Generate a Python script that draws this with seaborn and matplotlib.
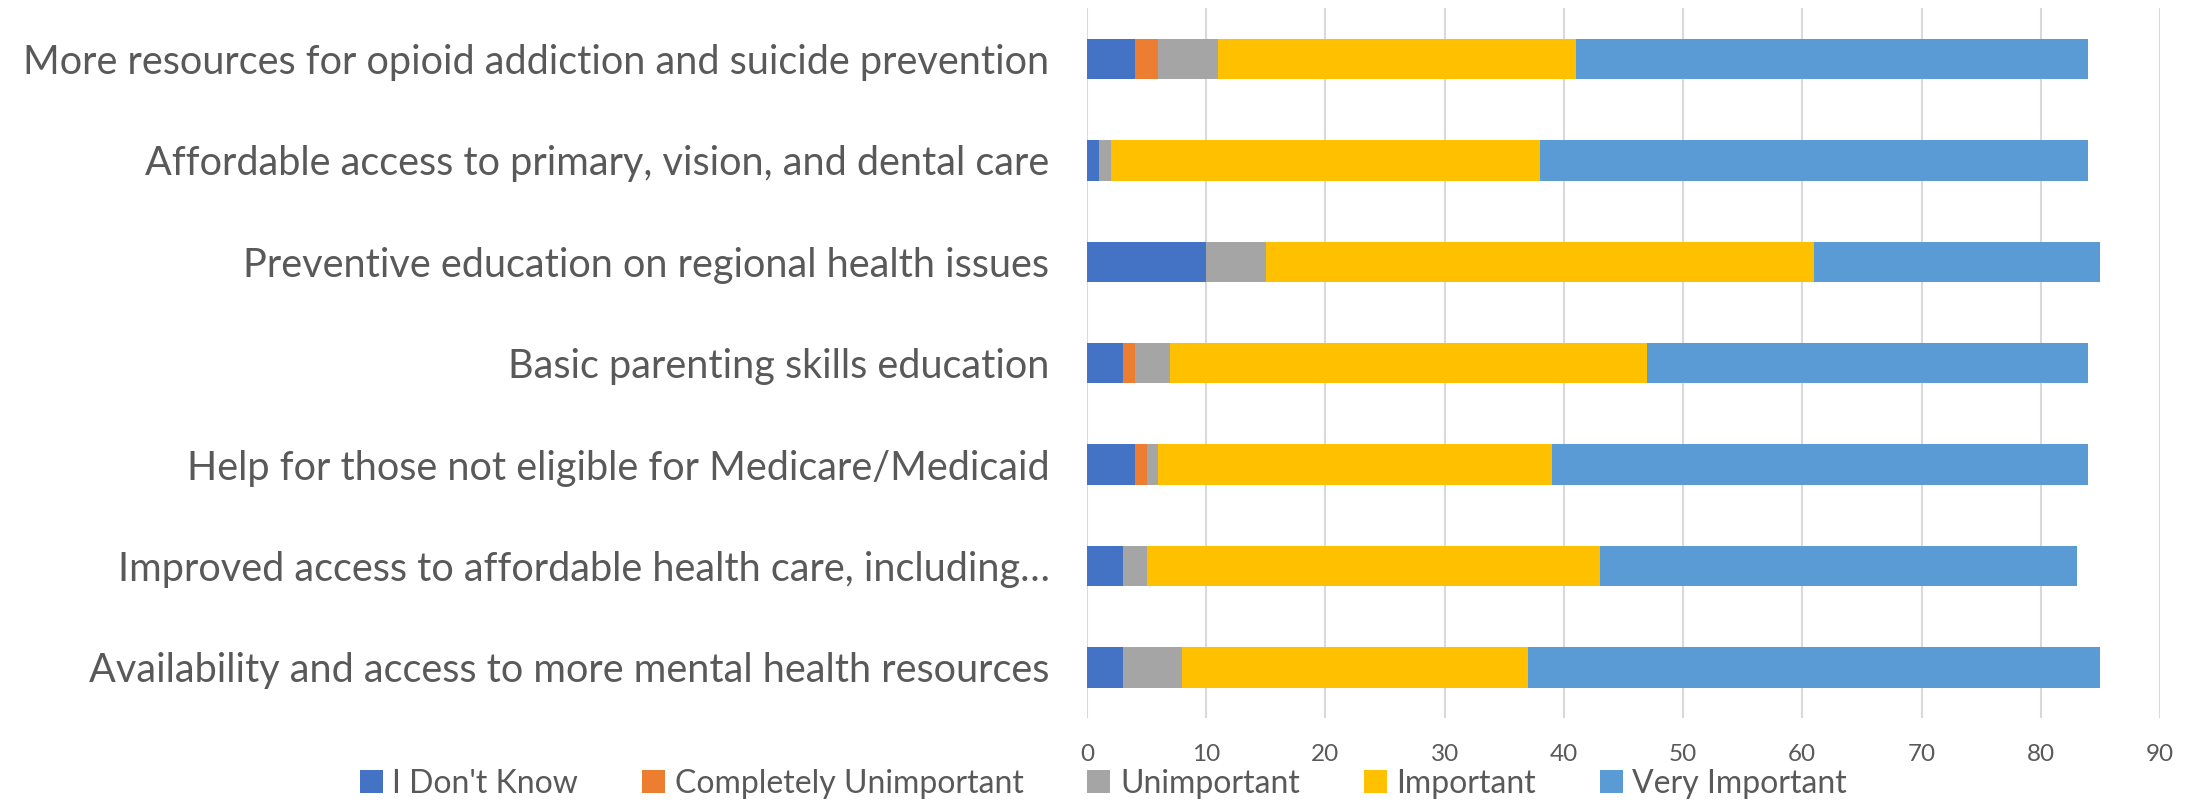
import matplotlib
matplotlib.use("Agg")
import matplotlib.pyplot as plt
from matplotlib.patches import Patch
import numpy as np
import pandas as pd
import seaborn as sns

# Survey responses per health priority
categories = [
    "More resources for opioid addiction and suicide prevention",
    "Affordable access to primary, vision, and dental care",
    "Preventive education on regional health issues",
    "Basic parenting skills education",
    "Help for those not eligible for Medicare/Medicaid",
    "Improved access to affordable health care, including\u2026",
    "Availability and access to more mental health resources",
]
dont_know = [4, 1, 10, 3, 4, 3, 3]
completely_unimportant = [2, 0, 0, 1, 1, 0, 0]
unimportant = [5, 1, 5, 3, 1, 2, 5]
important = [30, 36, 46, 40, 33, 38, 29]
very_important = [43, 46, 24, 37, 45, 40, 48]

series_names = ["I Don't Know", "Completely Unimportant", "Unimportant",
                "Important", "Very Important"]
series_values = [dont_know, completely_unimportant, unimportant,
                 important, very_important]
colors = ["#4472C4", "#ED7D31", "#A5A5A5", "#FFC000", "#5B9BD5"]
x_ticks = [0, 10, 20, 30, 40, 50, 60, 70, 80, 90]

sns.set_theme(style="white")
plt.rcParams["font.family"] = ["Lato", "DejaVu Sans"]
text_color = "#595959"

fig = plt.figure(figsize=(21.98, 8.09), dpi=100)
ax = fig.add_axes([0.4945, 0.1125, 0.9827 - 0.4945, 0.9896 - 0.1125])

# Stacked bars: draw cumulative totals from the outermost segment inward
cumulative = np.cumsum(np.array(series_values), axis=0)
for i in reversed(range(len(series_names))):
    df = pd.DataFrame({"category": categories, "value": cumulative[i]})
    sns.barplot(data=df, x="value", y="category", color=colors[i],
                saturation=1, width=0.4, ax=ax, zorder=3, linewidth=0,
                edgecolor="none")

ax.set_xlim(0, 90)
ax.set_xticks(x_ticks)
ax.set_xlabel("")
ax.set_ylabel("")
ax.grid(axis="x", color="#D9D9D9", linewidth=1.5, zorder=0)
ax.grid(axis="y", visible=False)
for s in ax.spines.values():
    s.set_visible(False)
ax.tick_params(axis="y", length=0, pad=27, labelsize=28.5, labelcolor=text_color)
ax.tick_params(axis="x", length=0, pad=19, labelsize=17.5, labelcolor=text_color)

handles = [Patch(facecolor=c, edgecolor="none", label=n)
           for c, n in zip(colors, series_names)]
fig.legend(handles=handles, loc="center", bbox_to_anchor=(0.502, 0.031),
           ncol=5, frameon=False, fontsize=23, labelcolor=text_color,
           handlelength=0.72, handleheight=0.72, handletextpad=0.3,
           columnspacing=2.0)

fig.savefig("out.png", dpi=100)
